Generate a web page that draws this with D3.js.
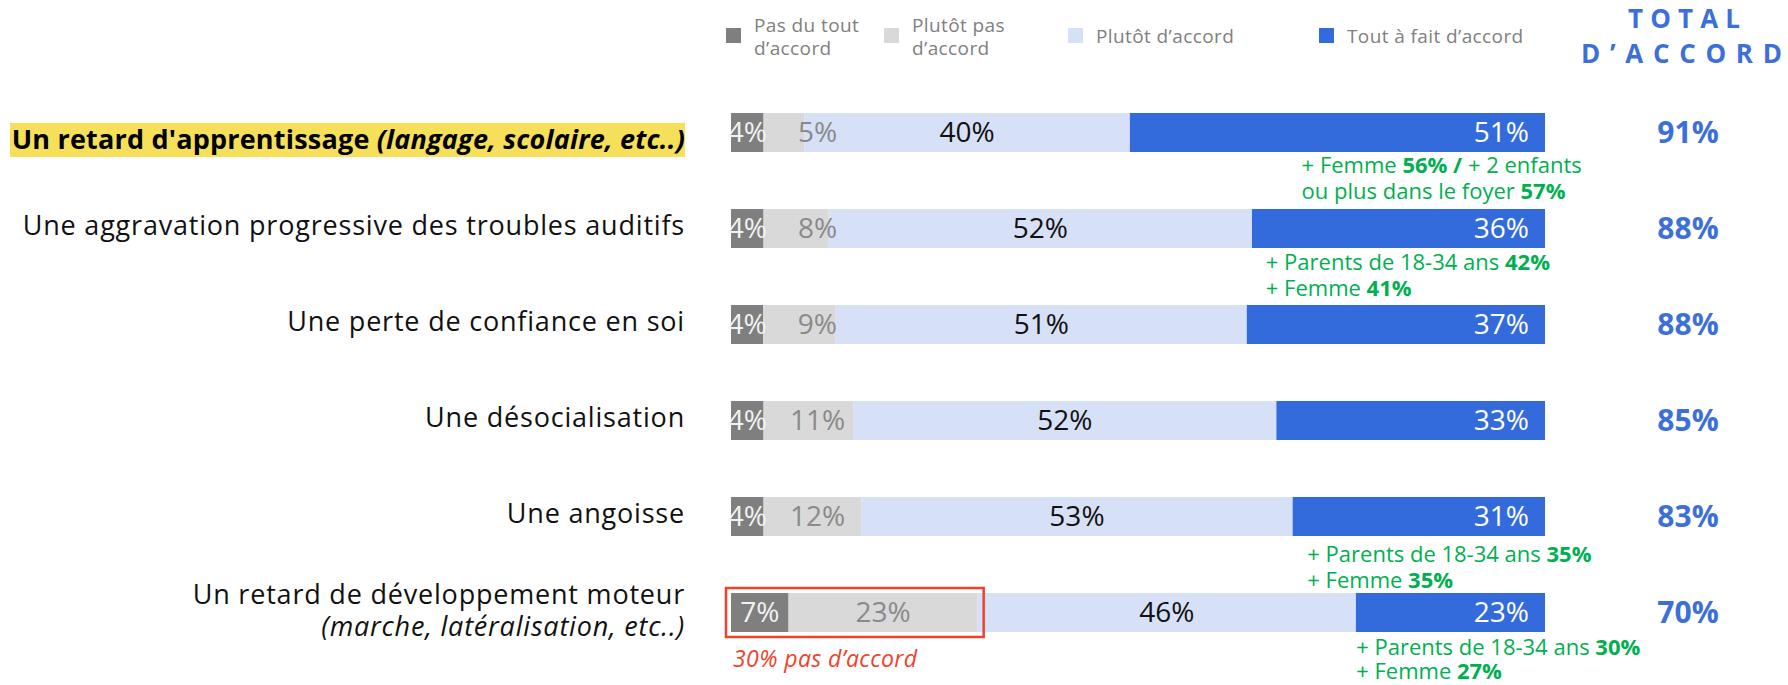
<!DOCTYPE html>
<html>
<head>
<meta charset="utf-8">
<script src="https://cdn.jsdelivr.net/npm/d3@7"></script>
<style>
  body { margin: 0; background: #fff; }
  svg { display: block; }
</style>
</head>
<body>
<svg id="chart"></svg>
<script>
// --- data ---
const categories = [
    "Un retard d'apprentissage (langage, scolaire, etc..)",
    "Une aggravation progressive des troubles auditifs",
    "Une perte de confiance en soi",
    "Une désocialisation",
    "Une angoisse",
    "Un retard de développement moteur (marche, latéralisation, etc..)"
];
const seriesNames = ["Pas du tout\nd’accord", "Plutôt pas\nd’accord", "Plutôt d’accord", "Tout à fait d’accord"];
const pasDuTout    = [4, 4, 4, 4, 4, 7];
const plutotPas    = [5, 8, 9, 11, 12, 23];
const plutotAccord = [40, 52, 51, 52, 53, 46];
const toutAFait    = [51, 36, 37, 33, 31, 23];
const totalAccord  = [91, 88, 88, 85, 83, 70];
// green sub-group notes: lines of [text, bold]
const notes = [
    [[["+ Femme ", false], ["56% /", true], [" + 2 enfants", false]], [["ou plus dans le foyer ", false], ["57%", true]]],
    [[["+ Parents de 18-34 ans ", false], ["42%", true]], [["+ Femme ", false], ["41%", true]]],
    null,
    null,
    [[["+ Parents de 18-34 ans ", false], ["35%", true]], [["+ Femme ", false], ["35%", true]]],
    [[["+ Parents de 18-34 ans ", false], ["30%", true]], [["+ Femme ", false], ["27%", true]]]
];

// --- layout ---
const W = 1788, H = 685;
const FONT = "'Open Sans', sans-serif";
const colors = ["#7f7f7f", "#d9d9d9", "#d6e0f6", "#336bdc"];
const labelColors = ["#f2f2f2", "#8a8a8a", "#111", "#fff"];
const blueText = "#3d6fd8", green = "#00b050", red = "#f2412a";
const noteLayout = [
    { at: 0.701, dy: 21, lh: 26 }, { at: 0.657, dy: 22, lh: 26 }, null, null,
    { at: 0.708, dy: 26, lh: 26 }, { at: 0.768, dy: 23, lh: 24 }
];
const legendX = [726, 884, 1068, 1319];
const totalX = 1688, labelRight = 685;

const keys = ["pas", "plutotPas", "plutotAccord", "tout"];
const rows = categories.map((c, i) => ({
    cat: c, pas: pasDuTout[i], plutotPas: plutotPas[i], plutotAccord: plutotAccord[i], tout: toutAFait[i]
}));
const stacked = d3.stack().keys(keys).offset(d3.stackOffsetExpand)(rows);

const x = d3.scaleLinear().domain([0, 1]).range([731, 1545]);
const y = d3.scaleBand().domain(categories).range([84.5, 660.5]).paddingInner(0.594).paddingOuter(0.297);
const cy = c => y(c) + y.bandwidth() / 2;

const svg = d3.select("#chart").attr("width", W).attr("height", H)
    .style("font-family", FONT);

// legend
const leg = svg.append("g");
seriesNames.forEach((name, i) => {
    leg.append("rect").attr("x", legendX[i]).attr("y", 28).attr("width", 15).attr("height", 15).attr("fill", colors[i]);
    const lines = name.split("\n");
    const t = leg.append("text").attr("fill", "#808080").style("font-size", "19px").style("letter-spacing", "0.4px");
    lines.forEach((l, j) => {
        t.append("tspan").attr("x", legendX[i] + 28)
            .attr("y", lines.length === 1 ? 43 : 32 + j * 23).text(l);
    });
});

// header TOTAL D'ACCORD, spread letters across a fixed span
[["TOTAL", 1628, 1740, 28], ["D’ACCORD", 1581, 1782, 63]].forEach(([s, x0, x1, base]) => {
    const t = svg.append("text").attr("x", x0).attr("y", base).attr("fill", blueText)
        .style("font-size", "26px").style("font-weight", 700);
    const head = t.append("tspan").text(s.slice(0, -1));
    t.append("tspan").text(s.slice(-1));
    const w0 = t.node().getComputedTextLength();
    const sp = (x1 - x0 - w0) / (s.length - 1);
    head.style("letter-spacing", sp + "px");
});

// bars
const series = svg.append("g").selectAll("g").data(stacked).join("g").attr("fill", (d, i) => colors[i]);
series.selectAll("rect").data(d => d).join("rect")
    .attr("x", d => x(d[0]))
    .attr("y", d => y(d.data.cat))
    .attr("width", d => x(d[1]) - x(d[0]))
    .attr("height", y.bandwidth());

// value labels in bars
stacked.forEach((s, k) => {
    svg.append("g").selectAll("text").data(s).join("text")
        .attr("x", d => {
            const c = (x(d[0]) + x(d[1])) / 2;
            if (k === 3) return x(d[1]) - 16;
            if (k === 1) return Math.max(c, x(d[0]) + 54);
            return c;
        })
        .attr("y", d => cy(d.data.cat))
        .attr("dy", "0.35em")
        .attr("text-anchor", k === 3 ? "end" : "middle")
        .attr("fill", labelColors[k])
        .style("font-size", "28px")
        .text(d => d.data[keys[k]] + "%");
});

// totals
svg.append("g").selectAll("text").data(categories).join("text")
    .attr("x", totalX).attr("y", d => cy(d)).attr("dy", "0.35em")
    .attr("text-anchor", "middle").attr("fill", blueText)
    .style("font-size", "30px").style("font-weight", 700)
    .text((d, i) => totalAccord[i] + "%");

// category labels
const labG = svg.append("g");
const catText = (yy) => labG.append("text").attr("x", labelRight).attr("y", yy).attr("dy", "0.35em")
    .attr("text-anchor", "end").attr("fill", "#111").style("font-size", "27px").style("letter-spacing", "0.8px");
categories.forEach((c, i) => {
    const parts = c.split(" (");
    const paren = parts[1] ? "(" + parts[1] : null;
    if (i === 0) {
        const t = catText(cy(c) + 7).attr("fill", "#000").style("font-weight", 700).style("letter-spacing", "0.2px");
        t.append("tspan").text(parts[0] + " ");
        t.append("tspan").style("font-style", "italic").text(paren);
        const b = t.node().getBBox();
        labG.insert("rect", "text").attr("x", 10).attr("y", b.y + 3).attr("width", labelRight - 10)
            .attr("height", 34).attr("fill", "#f6e05a");
    } else if (paren) {
        // two lines in one text element
        const t = labG.append("text").attr("text-anchor", "end").attr("fill", "#111")
            .style("font-size", "27px").style("letter-spacing", "0.8px");
        t.append("tspan").attr("x", labelRight).attr("y", cy(c) - 18).attr("dy", "0.35em").text(parts[0]);
        t.append("tspan").attr("x", labelRight).attr("y", cy(c) + 14).attr("dy", "0.35em")
            .style("font-style", "italic").text(paren);
    } else {
        catText(cy(c) - 3).text(c);
    }
});

// green notes, one text element per note
notes.forEach((n, i) => {
    if (!n) return;
    const lay = noteLayout[i];
    const bottom = y(categories[i]) + y.bandwidth();
    const t = svg.append("text").attr("fill", green).style("font-size", "22px");
    n.forEach((line, j) => {
        line.forEach(([txt, bold], k) => {
            const ts = t.append("tspan").style("font-weight", bold ? 700 : 400).text(txt);
            if (k === 0) ts.attr("x", x(lay.at)).attr("y", bottom + lay.dy + j * lay.lh);
        });
    });
});

// red box around disagreement of last row
const last = categories.length - 1;
const lastCat = categories[last];
const disagreeEnd = stacked[1][last][1];
svg.append("rect")
    .attr("x", x(0) - 5).attr("y", y(lastCat) - 5)
    .attr("width", x(disagreeEnd) - x(0) + 11).attr("height", y.bandwidth() + 10)
    .attr("fill", "none").attr("stroke", red).attr("stroke-width", 2.5);
svg.append("text").attr("x", x(0) + 2).attr("y", y(lastCat) + y.bandwidth() + 27).attr("dy", "0.35em")
    .attr("fill", red).style("font-size", "23px").style("font-style", "italic").style("letter-spacing", "0.4px")
    .text((pasDuTout[last] + plutotPas[last]) + "% pas d’accord");
</script>
</body>
</html>
